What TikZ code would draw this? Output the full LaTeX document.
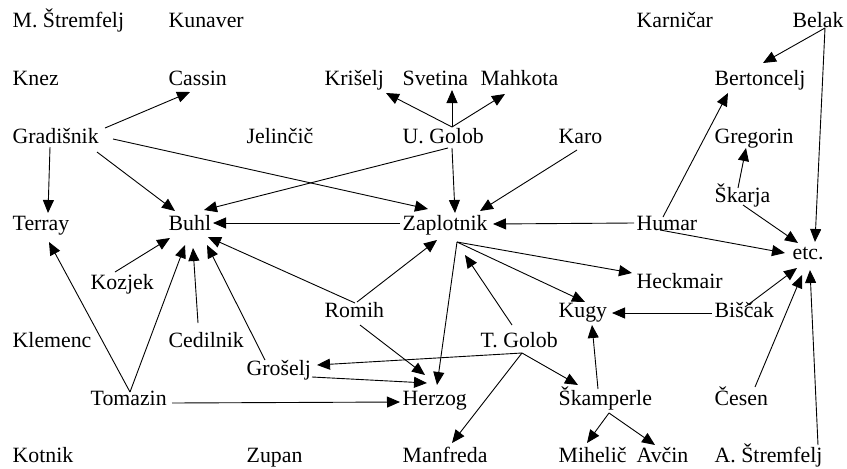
\documentclass[tikz,border=0pt]{standalone}
\usepackage{fontspec}
\setmainfont{Liberation Serif}
\usetikzlibrary{arrows.meta}
\tikzset{
  lbl/.style={anchor=base west,inner sep=0pt,font=\fontsize{21.8}{26}\selectfont},
  arr/.style={-{Triangle[length=13pt,width=11pt]},line width=0.9pt}
}
\newcommand\lnk[4]{\draw[arr] ([shift={#2}]#1.base west) -- ([shift={#4}]#3.base west);}
\begin{document}
\begin{tikzpicture}[x=1pt,y=-1pt]
\useasboundingbox (0,0) rectangle (847,469);
% row 1
\node[lbl] (mstremfelj) at (12.5,27) {M. Štremfelj};
\node[lbl] (kunaver) at (168.5,27) {Kunaver};
\node[lbl] (karnicar) at (636.5,27) {Karničar};
\node[lbl] (belak) at (792.5,27) {Belak};
% row 2
\node[lbl] (knez) at (12.5,85) {Knez};
\node[lbl] (cassin) at (168.5,85) {Cassin};
\node[lbl] (kriselj) at (324.5,85) {Krišelj};
\node[lbl] (svetina) at (402.5,85) {Svetina};
\node[lbl] (mahkota) at (480.5,85) {Mahkota};
\node[lbl] (bertoncelj) at (714.5,85) {Bertoncelj};
% row 3
\node[lbl] (gradisnik) at (12.5,143) {Gradišnik};
\node[lbl] (jelincic) at (246.5,143) {Jelinčič};
\node[lbl] (ugolob) at (402.5,143) {U. Golob};
\node[lbl] (karo) at (558.5,143) {Karo};
\node[lbl] (gregorin) at (714.5,143) {Gregorin};
\node[lbl] (skarja) at (714.5,202) {Škarja};
% row 4
\node[lbl] (terray) at (12.5,230) {Terray};
\node[lbl] (buhl) at (168.5,230) {Buhl};
\node[lbl] (zaplotnik) at (402.5,230) {Zaplotnik};
\node[lbl] (humar) at (636.5,230) {Humar};
\node[lbl] (etc) at (792.5,259) {etc.};
\node[lbl] (heckmair) at (636.5,288) {Heckmair};
\node[lbl] (kozjek) at (90.5,289) {Kozjek};
\node[lbl] (romih) at (324.5,317) {Romih};
\node[lbl] (kugy) at (558.5,317) {Kugy};
\node[lbl] (biscak) at (714.5,317) {Biščak};
\node[lbl] (klemenc) at (12.5,347) {Klemenc};
\node[lbl] (cedilnik) at (168.5,347) {Cedilnik};
\node[lbl] (tgolob) at (480.5,347) {T. Golob};
\node[lbl] (groselj) at (246.5,375) {Grošelj};
\node[lbl] (tomazin) at (90.5,405) {Tomazin};
\node[lbl] (herzog) at (402.5,405) {Herzog};
\node[lbl] (skamperle) at (558.5,405) {Škamperle};
\node[lbl] (cesen) at (714.5,405) {Česen};
\node[lbl] (kotnik) at (12.5,462) {Kotnik};
\node[lbl] (zupan) at (246.5,462) {Zupan};
\node[lbl] (manfreda) at (402.5,462) {Manfreda};
\node[lbl] (mihelic) at (558.5,462) {Mihelič};
\node[lbl] (avcin) at (636.5,462) {Avčin};
\node[lbl] (astremfelj) at (714.5,462) {A. Štremfelj};
% connectors
\lnk{gradisnik}{(92.5,-15)}{cassin}{(21.5,7)}
\lnk{gradisnik}{(37.5,4)}{terray}{(35.5,-17)}
\lnk{gradisnik}{(84.5,9)}{buhl}{(6.5,-19)}
\lnk{gradisnik}{(100.5,-4)}{zaplotnik}{(25.5,-21)}
\lnk{ugolob}{(49.5,-16)}{kriselj}{(61.5,8)}
\lnk{ugolob}{(49.5,-16)}{svetina}{(49.5,5)}
\lnk{ugolob}{(49.5,-16)}{mahkota}{(24.5,9)}
\lnk{ugolob}{(45.5,5)}{buhl}{(35.5,-20)}
\lnk{ugolob}{(49.5,5)}{zaplotnik}{(52.5,-17)}
\lnk{karo}{(18.5,7)}{zaplotnik}{(77.5,-19)}
\lnk{zaplotnik}{(-2.5,-7)}{buhl}{(44.5,-7)}
\lnk{humar}{(-2.5,-7)}{zaplotnik}{(90.5,-6)}
\lnk{humar}{(26.5,-13)}{bertoncelj}{(13.5,8)}
\lnk{humar}{(23.5,0)}{etc}{(-7.5,-6)}
\lnk{belak}{(32.5,1)}{bertoncelj}{(48.5,-22)}
\lnk{belak}{(32.5,1)}{etc}{(22.5,-17)}
\lnk{skarja}{(23.5,-14)}{gregorin}{(31.5,5)}
\lnk{skarja}{(28.5,3)}{etc}{(5.5,-16)}
\lnk{kozjek}{(24.5,-17)}{buhl}{(1.5,8)}
\lnk{tomazin}{(39.5,-13)}{terray}{(36.5,12)}
\lnk{tomazin}{(39.5,-13)}{buhl}{(16.5,15)}
\lnk{cedilnik}{(29.5,-24)}{buhl}{(24.5,18)}
\lnk{groselj}{(18.5,-15)}{buhl}{(38.5,15)}
\lnk{romih}{(30.5,-14)}{buhl}{(39.5,7)}
\lnk{romih}{(32.5,-15)}{zaplotnik}{(34.5,10)}
\lnk{romih}{(35.5,8)}{herzog}{(22.5,-30)}
\lnk{zaplotnik}{(54.5,12)}{herzog}{(34.5,-20)}
\lnk{zaplotnik}{(54.5,12)}{kugy}{(26.5,-15)}
\lnk{zaplotnik}{(54.5,12)}{heckmair}{(-4.5,-15)}
\lnk{tgolob}{(31.5,-22)}{zaplotnik}{(62.5,25)}
\lnk{tgolob}{(41.5,6)}{groselj}{(70.5,-10)}
\lnk{tgolob}{(41.5,6)}{skamperle}{(19.5,-20)}
\lnk{tgolob}{(41.5,6)}{manfreda}{(49.5,-19)}
\lnk{groselj}{(65.5,2)}{herzog}{(24.5,-22)}
\lnk{tomazin}{(81.5,-2)}{herzog}{(-2.5,-3)}
\lnk{biscak}{(-2.5,-4)}{kugy}{(53.5,-4)}
\lnk{biscak}{(30.5,-10)}{etc}{(4.5,9)}
\lnk{skamperle}{(39.5,-16)}{kugy}{(33.5,8)}
\lnk{skamperle}{(50.5,8)}{mihelic}{(28.5,-19)}
\lnk{skamperle}{(50.5,8)}{avcin}{(18.5,-17)}
\lnk{cesen}{(40.5,-18)}{etc}{(9.5,16)}
\lnk{astremfelj}{(103.5,-17)}{etc}{(17.5,11)}
\end{tikzpicture}
\end{document}
